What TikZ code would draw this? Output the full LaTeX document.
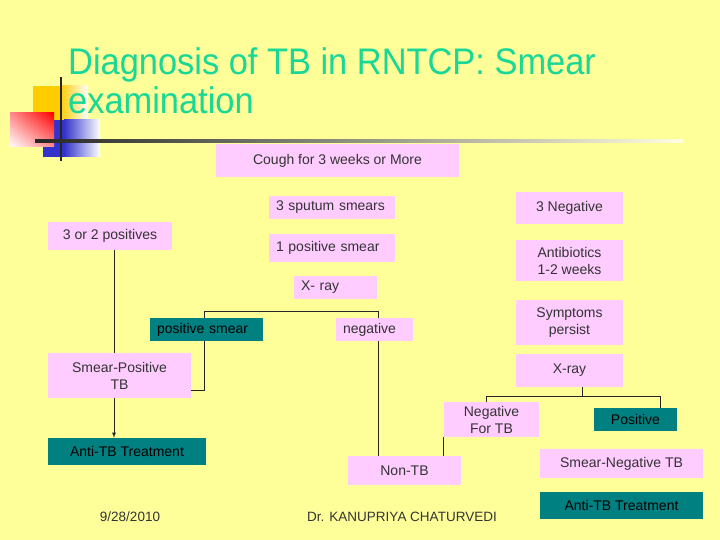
\documentclass[tikz,border=0pt]{standalone}
\usetikzlibrary{shadings}
\usepackage{fontspec}
\setmainfont{Liberation Sans}
\definecolor{slidebg}{RGB}{255,255,153}
\definecolor{boxpink}{RGB}{255,204,255}
\definecolor{boxteal}{RGB}{0,128,128}
\definecolor{titlegreen}{RGB}{25,215,150}
\definecolor{boxtext}{RGB}{51,51,51}
\definecolor{decoyellow}{RGB}{255,204,0}
\definecolor{decoblue}{RGB}{51,51,204}

\begin{document}
\begin{tikzpicture}[x=1pt,y=-1pt,
  pinkbox/.style={fill=boxpink,text=boxtext,inner sep=0pt,font=\fontsize{14}{17}\selectfont,align=center},
  tealbox/.style={pinkbox,fill=boxteal,text=black},
  leftbox/.style={align=left,inner xsep=7pt},
  titletext/.style={anchor=base west,inner sep=0pt,text=titlegreen,xscale=0.93,font=\fontsize{37}{40}\selectfont},
  foottext/.style={text=boxtext,font=\fontsize{13.5}{15}\selectfont},
  link/.style={draw=black!85,line width=0.8pt}]
\useasboundingbox (0,0) rectangle (720,540);
\fill[slidebg] (0,0) rectangle (720,540);
\fill[decoyellow] (33,86) rectangle (60,120);
\shade[left color=decoyellow,right color=white] (60,86) rectangle (88,120);
\fill[decoblue] (43,120) rectangle (64,157);
\shade[left color=decoblue,right color=white] (64,120) rectangle (100,157);
\shade[upper right=red,lower left=white,upper left=red!45!white,lower right=red!45!white] (10,113) rectangle (54,147);
\draw[black!85,line width=1.5pt] (61,77) -- (61,161);
\shade[left color=black!85,middle color=black!60,right color=white!70!slidebg] (35,140) rectangle (683,142.5);
\node[titletext] (title1) at (68,75) {Diagnosis of TB in RNTCP: Smear};
\node[titletext] (title2) at (68,114) {examination};
\node[pinkbox,minimum width=243pt,minimum height=33pt] (cough) at (337.5,160.5) {Cough for 3 weeks or More};
\node[pinkbox,leftbox,text width=112pt,minimum height=23pt] (sputum) at (332,207.5) {3 sputum smears};
\node[pinkbox,leftbox,text width=112pt,minimum height=28pt] (onepos) at (332,248) {1 positive smear};
\node[pinkbox,leftbox,text width=69pt,minimum height=23pt] (xrayl) at (335.5,287.5) {X- ray};
\node[pinkbox,minimum width=107pt,minimum height=32pt] (threeneg) at (569.5,208) {3 Negative};
\node[pinkbox,minimum width=107pt,minimum height=41pt] (antibio) at (569.5,260.5) {Antibiotics\\1-2 weeks};
\node[pinkbox,minimum width=107pt,minimum height=45pt] (persist) at (569.5,322.5) {Symptoms\\persist};
\node[pinkbox,minimum width=107pt,minimum height=33pt] (xrayr) at (569.5,370.5) {X-ray};
\node[pinkbox,minimum width=124pt,minimum height=28pt] (twopos) at (110,236) {3 or 2 positives};
\node[tealbox,leftbox,text width=99pt,minimum height=23pt] (possmear) at (206.5,329.5) {positive smear};
\node[pinkbox,leftbox,text width=63pt,minimum height=23pt] (neg) at (374.5,329.5) {negative};
\node[pinkbox,minimum width=143pt,minimum height=45pt] (smearpos) at (119.5,375.5) {Smear-Positive\\TB};
\node[tealbox,minimum width=158pt,minimum height=27pt] (atbl) at (127,451.5) {Anti-TB Treatment};
\node[pinkbox,minimum width=113pt,minimum height=29pt] (nontb) at (404.5,470.5) {Non-TB};
\node[pinkbox,minimum width=95pt,minimum height=35pt] (negtb) at (491.5,419.5) {Negative\\For TB};
\node[tealbox,minimum width=83pt,minimum height=23pt] (posr) at (635.5,419.5) {Positive};
\node[pinkbox,minimum width=163pt,minimum height=29pt] (smearneg) at (621.5,463.5) {Smear-Negative TB};
\node[tealbox,minimum width=163pt,minimum height=27pt] (atbr) at (621.5,505.5) {Anti-TB Treatment};
\node[foottext] (date) at (130,517) {9/28/2010};
\node[foottext] (author) at (402,517) {Dr. KANUPRIYA CHATURVEDI};
\draw[link] ([xshift=4pt]twopos.south) -- ([xshift=4pt]twopos.south |- smearpos.north);
\draw[link,-latex] ([xshift=-5.5pt]smearpos.south) -- ([xshift=-5.5pt]smearpos.south |- atbl.north);
\draw[link] ([xshift=-2.5pt]possmear.north) -- ++(0,-6) -| ([xshift=3.5pt]neg.north);
\draw[link] ([xshift=-2.5pt]possmear.south) |- ([yshift=-14.5pt]smearpos.east);
\draw[link] ([xshift=3.5pt]neg.south) -- ([xshift=3.5pt]neg.south |- nontb.north);
\draw[link] ([xshift=13pt]xrayr.south) -- ++(0,9) coordinate (fork);
\draw[link] ([xshift=-5.5pt]negtb.north) |- (fork) -| ([xshift=25pt]posr.north);
\draw[link] (negtb.south west) -- (negtb.south west |- nontb.north);
\end{tikzpicture}
\end{document}
